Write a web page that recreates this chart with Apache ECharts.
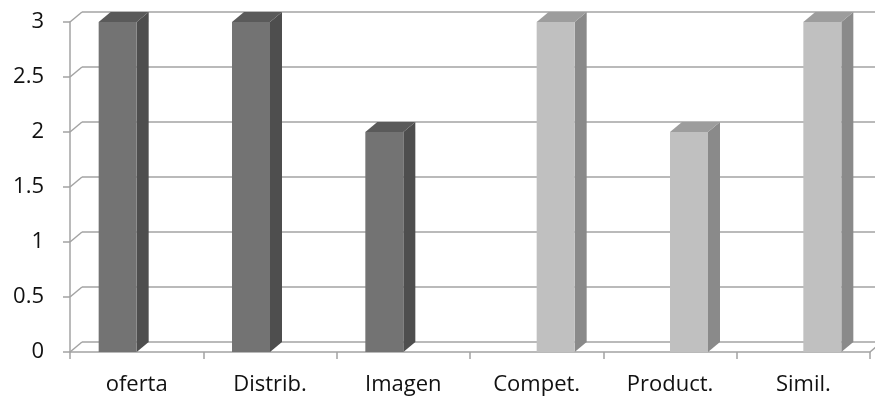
<!DOCTYPE html>
<html>
<head>
<meta charset="utf-8">
<script src="https://cdn.jsdelivr.net/npm/echarts@6/dist/echarts.min.js"></script>
<style>
html,body{margin:0;padding:0;background:#fff;}
#chart{width:875px;height:398px;}
</style>
</head>
<body>
<div id="chart"></div>
<script>
// Categories and values
var categories = ['oferta', 'Distrib.', 'Imagen', 'Compet.', 'Product.', 'Simil.'];
var seriesDark = [3, 3, 2, 0, 0, 0];
var seriesLight = [0, 0, 0, 3, 2, 3];
var yTicks = [0, 0.5, 1, 1.5, 2, 2.5, 3];

// 3D depth offset (pixels) for the back wall and bar sides
var DX = 12, DY = 10;
var GRID_COLOR = '#a3a3a3';
var FONT = '"Open Sans", Lato, sans-serif';

function bar3d(slot, front, side, top) {
  return function (params, api) {
    var v = api.value(1);
    if (!v) return;
    var idx = api.value(0);
    var pTop = api.coord([idx, v]);
    var pBase = api.coord([idx, 0]);
    var band = api.size([1, 0])[0];
    var w = band * 0.285;
    var x0 = slot === 0 ? pTop[0] - w : pTop[0];
    var x1 = x0 + w;
    var yT = pTop[1], yB = pBase[1];
    return {
      type: 'group',
      children: [
        { type: 'polygon', shape: { points: [[x1, yT], [x1 + DX, yT - DY], [x1 + DX, yB - DY], [x1, yB]] }, style: { fill: side } },
        { type: 'polygon', shape: { points: [[x0, yT], [x0 + DX, yT - DY], [x1 + DX, yT - DY], [x1, yT]] }, style: { fill: top } },
        { type: 'rect', shape: { x: x0, y: yT, width: w, height: yB - yT }, style: { fill: front } }
      ]
    };
  };
}

// Back wall gridlines with slanted side-wall connectors
function wallItem(params, api) {
  var v = api.value(0);
  var pL = api.coord([0, v]);
  var band = api.size([1, 0])[0];
  var left = pL[0] - band / 2;
  var right = left + band * categories.length;
  var y = pL[1];
  var children = [
    { type: 'line', shape: { x1: left, y1: y, x2: left + DX, y2: y - DY }, style: { stroke: GRID_COLOR, lineWidth: 1.5 } },
    { type: 'line', shape: { x1: left + DX, y1: y - DY, x2: right + DX + 20, y2: y - DY }, style: { stroke: GRID_COLOR, lineWidth: 1.5 } }
  ];
  if (v === 0) {
    children.push({ type: 'line', shape: { x1: right, y1: y, x2: right + DX, y2: y - DY }, style: { stroke: GRID_COLOR, lineWidth: 1.5 } });
  }
  return { type: 'group', children: children };
}

var chart = echarts.init(document.getElementById('chart'), null, { renderer: 'canvas' });
chart.setOption({
  animation: false,
  backgroundColor: '#ffffff',
  grid: { left: 70, right: 5, top: 22, bottom: 46 },
  xAxis: {
    type: 'category',
    data: categories,
    boundaryGap: true,
    axisLine: { show: true, lineStyle: { color: GRID_COLOR, width: 1.5 } },
    axisTick: { show: true, length: 7, interval: 0, lineStyle: { color: GRID_COLOR, width: 1.5 } },
    axisLabel: { color: '#111', fontSize: 22, fontFamily: FONT, margin: 22, interval: 0 },
    splitLine: { show: false }
  },
  yAxis: {
    type: 'value',
    min: 0,
    max: 3,
    interval: 0.5,
    axisLine: { show: true, lineStyle: { color: GRID_COLOR, width: 1.5 } },
    axisTick: { show: true, length: 7, lineStyle: { color: GRID_COLOR, width: 1.5 } },
    axisLabel: { color: '#111', fontSize: 22, fontFamily: FONT, margin: 26 },
    splitLine: { show: false }
  },
  series: [
    {
      type: 'custom',
      name: 'wall',
      silent: true,
      clip: false,
      z: 1,
      renderItem: wallItem,
      data: yTicks.map(function (t) { return [t]; }),
      encode: { y: 0 }
    },
    {
      type: 'custom',
      name: 'Serie 1',
      z: 3,
      renderItem: bar3d(0, '#737373', '#4e4e4e', '#5a5a5a'),
      data: seriesDark.map(function (v, i) { return [i, v]; }),
      encode: { x: 0, y: 1 }
    },
    {
      type: 'custom',
      name: 'Serie 2',
      z: 3,
      renderItem: bar3d(1, '#c0c0c0', '#8a8a8a', '#9d9d9d'),
      data: seriesLight.map(function (v, i) { return [i, v]; }),
      encode: { x: 0, y: 1 }
    }
  ]
});
</script>
</body>
</html>
